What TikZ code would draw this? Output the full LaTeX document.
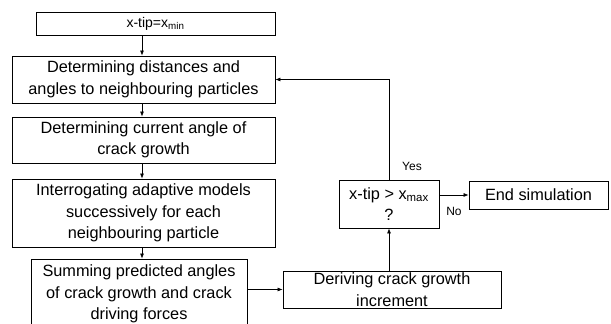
\documentclass[tikz,border=0pt]{standalone}
\usepackage{fontspec}
\setmainfont{Liberation Sans}
\usetikzlibrary{arrows.meta}
\begin{document}
\begin{tikzpicture}[x=1pt,y=1pt,
  box/.style={draw, line width=0.8pt, fill=white, align=center, inner sep=0pt,
    font=\fontsize{16.3}{21.5}\selectfont},
  arr/.style={line width=0.7pt, -{Latex[length=5pt,width=4pt]}},
  lab/.style={font=\fontsize{12}{14}\selectfont}]
\useasboundingbox (0,0) rectangle (611,324);
\begin{scope}
\clip (0,0) rectangle (611,324);
\node[box, minimum width=239pt, minimum height=23pt, font=\fontsize{14}{17}\selectfont] (b1) at (155.5,300) {x-tip=x\textsubscript{min}};
\node[box, minimum width=263pt, minimum height=47pt] (b2) at (143.5,244.5) {Determining distances and\\angles to neighbouring particles};
\node[box, minimum width=263pt, minimum height=46pt] (b3) at (143.5,184) {Determining current angle of\\crack growth};
\node[box, minimum width=263pt, minimum height=68pt] (b4) at (143.5,111) {Interrogating adaptive models\\successively for each\\neighbouring particle};
\node[box, minimum width=216pt, minimum height=70pt] (b5) at (139,30) {Summing predicted angles\\of crack growth and crack\\driving forces};
\node[box, minimum width=218pt, minimum height=37pt] (b6) at (392,34.5) {Deriving crack growth\\increment};
\node[box, minimum width=100pt, minimum height=48pt] (dec) at (389,120) {x-tip {>} x\textsubscript{max}\\?};
\node[box, minimum width=139pt, minimum height=28pt] (end) at (538.5,129) {End simulation};
\coordinate (c1) at (142,0);
\draw[arr] (c1 |- b1.south) -- (c1 |- b2.north);
\draw[arr] (c1 |- b2.south) -- (c1 |- b3.north);
\draw[arr] (c1 |- b3.south) -- (c1 |- b4.north);
\draw[arr] (c1 |- b4.south) -- (c1 |- b5.north);
\draw[arr] (b5.east |- b6.west) -- (b6.west);
\draw[arr] (b6.north -| dec.south) -- (dec.south);
\draw[arr] (dec.north) |- (b2.east);
\draw[arr] (end.west -| dec.east) -- (end.west);
\node[lab] (yes) at (412,158) {Yes};
\node[lab] (no) at (454,113) {No};
\end{scope}
\end{tikzpicture}
\end{document}
